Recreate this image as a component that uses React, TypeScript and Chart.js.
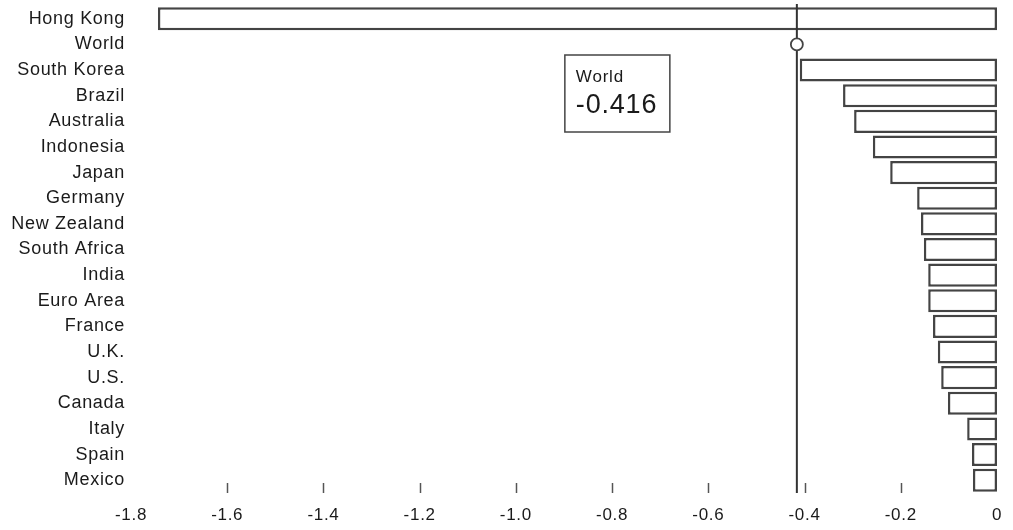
import React, { useEffect, useRef } from "react";
import { Chart, registerables } from "chart.js";

Chart.register(...registerables);

const categories = [
  "Hong Kong", "World", "South Korea", "Brazil", "Australia", "Indonesia", "Japan",
  "Germany", "New Zealand", "South Africa", "India", "Euro Area", "France", "U.K.",
  "U.S.", "Canada", "Italy", "Spain", "Mexico",
];
const values = [
  -1.744, null, -0.41, -0.32, -0.297, -0.258, -0.222, -0.166, -0.158, -0.152,
  -0.143, -0.143, -0.133, -0.123, -0.116, -0.102, -0.062, -0.052, -0.05,
];
const worldLabel = "World";
const worldValue = -0.416;
const worldText = "-0.416";
const xTickLabels = ["-1.8", "-1.6", "-1.4", "-1.2", "-1.0", "-0.8", "-0.6", "-0.4", "-0.2", "0"];
const tickMarkValues = [-1.6, -1.4, -1.2, -1.0, -0.8, -0.6, -0.4, -0.2];

const FONT = "'Liberation Sans', Arial, Helvetica, sans-serif";

const overlayPlugin = {
  id: "overlay",
  beforeDraw(chart: any) {
    chart.ctx.letterSpacing = "0.7px";
  },
  afterDraw(chart: any) {
    const ctx = chart.ctx;
    const xs = chart.scales.x;
    const ys = chart.scales.y;
    const area = chart.chartArea;
    ctx.save();
    // tick marks
    ctx.strokeStyle = "#555";
    ctx.lineWidth = 1.5;
    tickMarkValues.forEach((v) => {
      const px = Math.round(xs.getPixelForValue(v)) + 0.5;
      ctx.beginPath();
      ctx.moveTo(px, area.bottom - 10);
      ctx.lineTo(px, area.bottom);
      ctx.stroke();
    });
    // world line and marker
    const wx = xs.getPixelForValue(worldValue);
    const wy = ys.getPixelForValue(categories.indexOf(worldLabel));
    ctx.strokeStyle = "#333";
    ctx.lineWidth = 2;
    ctx.beginPath();
    ctx.moveTo(wx, area.top - 2);
    ctx.lineTo(wx, area.bottom);
    ctx.stroke();
    ctx.beginPath();
    ctx.arc(wx, wy, 6, 0, Math.PI * 2);
    ctx.fillStyle = "#fff";
    ctx.fill();
    ctx.lineWidth = 1.8;
    ctx.strokeStyle = "#444";
    ctx.stroke();
    // annotation box
    const bw = 105;
    const bh = 77;
    const bx = wx - 127 - bw;
    const by = area.top + 49;
    ctx.fillStyle = "#fff";
    ctx.fillRect(bx, by, bw, bh);
    ctx.strokeStyle = "#444";
    ctx.lineWidth = 1.5;
    ctx.strokeRect(bx, by, bw, bh);
    ctx.fillStyle = "#1a1a1a";
    ctx.textAlign = "left";
    ctx.textBaseline = "alphabetic";
    ctx.letterSpacing = "0.8px";
    ctx.font = `17px ${FONT}`;
    ctx.fillText(worldLabel, bx + 11, by + 27);
    ctx.font = `27px ${FONT}`;
    ctx.fillText(worldText, bx + 11, by + 58);
    ctx.restore();
  },
};

export default function App() {
  const ref = useRef<HTMLCanvasElement>(null);
  useEffect(() => {
    const chart = new Chart(ref.current as HTMLCanvasElement, {
      type: "bar",
      data: {
        labels: categories,
        datasets: [
          {
            data: values as any,
            backgroundColor: "#ffffff",
            borderColor: "#444444",
            borderWidth: 2.5,
            borderSkipped: false,
            barPercentage: 0.9,
            categoryPercentage: 1,
          },
        ],
      },
      options: {
        indexAxis: "y",
        animation: false,
        responsive: false,
        maintainAspectRatio: false,
        events: [],
        layout: { padding: { top: 6, right: 16, left: 0, bottom: 0 } },
        plugins: { legend: { display: false }, tooltip: { enabled: false } },
        scales: {
          x: {
            min: -1.8,
            max: 0,
            grid: { display: false, drawTicks: false },
            border: { display: false },
            ticks: {
              stepSize: 0.2,
              padding: 12,
              color: "#1a1a1a",
              font: { family: FONT, size: 17 },
              maxRotation: 0,
              autoSkip: false,
              callback: (_v: any, i: number) => xTickLabels[i],
            },
            afterFit: (s: any) => {
              s.height = 37;
              s.paddingLeft = 0;
              s.paddingRight = 0;
            },
          },
          y: {
            grid: { display: false, drawTicks: false },
            border: { display: false },
            ticks: {
              padding: 6,
              color: "#1a1a1a",
              font: { family: FONT, size: 18 },
              autoSkip: false,
            },
            afterFit: (s: any) => {
              s.width = 131;
              s.paddingTop = 0;
              s.paddingBottom = 0;
            },
          },
        },
      },
      plugins: [overlayPlugin],
    });
    return () => chart.destroy();
  }, []);
  return (
    <div style={{ position: "fixed", left: 0, top: 0, width: 1013, height: 530, background: "#fff" }}>
      <canvas ref={ref} width={1013} height={530} />
    </div>
  );
}
